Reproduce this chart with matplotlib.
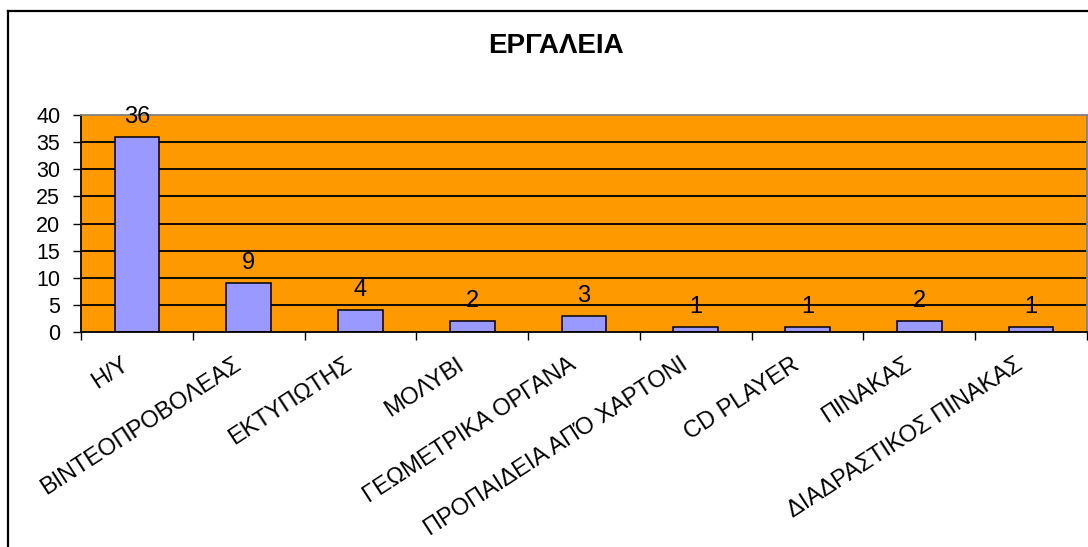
import matplotlib
matplotlib.use("Agg")
import matplotlib.pyplot as plt
import matplotlib.transforms as mtransforms
import numpy as np

plt.rcParams['font.family'] = ['Liberation Sans', 'DejaVu Sans']

title = 'ΕΡΓΑΛΕΙΑ'
categories = ['Η/Υ', 'ΒΙΝΤΕΟΠΡΟΒΟΛΕΑΣ', 'ΕΚΤΥΠΩΤΗΣ', 'ΜΟΛΥΒΙ',
              'ΓΕΩΜΕΤΡΙΚΑ ΟΡΓΑΝΑ', 'ΠΡΟΠΑΙΔΕΙΑ ΑΠΌ ΧΑΡΤΟΝΙ', 'CD PLAYER',
              'ΠΙΝΑΚΑΣ', 'ΔΙΑΔΡΑΣΤΙΚΟΣ ΠΙΝΑΚΑΣ']
counts = [36, 9, 4, 2, 3, 1, 1, 2, 1]
yticks = [0, 5, 10, 15, 20, 25, 30, 35, 40]

W, H = 1088, 547
fig = plt.figure(figsize=(W / 100, H / 100), dpi=100)

# chart frame, running off the right and bottom edges
fig.add_artist(plt.Line2D([8 / W, 8 / W], [0, 1 - 11 / H], color='black', lw=1.6,
                          transform=fig.transFigure))
fig.add_artist(plt.Line2D([8 / W, 1], [1 - 11 / H, 1 - 11 / H], color='black', lw=1.6,
                          transform=fig.transFigure))

left, right, top, bottom = 81, 1087, 115, 332
ax = fig.add_axes([left / W, 1 - bottom / H, (right - left) / W, (bottom - top) / H])
ax.set_facecolor('#FF9900')

x = np.arange(len(categories))
ax.set_xlim(-0.5, len(categories) - 0.5)
ax.set_ylim(0, 40)

for y in yticks[1:-1]:
    ax.axhline(y, color='black', lw=1.3, zorder=1)

ax.bar(x, counts, width=0.4, color='#9999FF', edgecolor='black', lw=1.1, zorder=2)

for xi, c in zip(x, counts):
    ax.annotate(str(c), (xi, c), xytext=(0, 6.5), textcoords='offset points',
                ha='center', va='bottom', fontsize=17, zorder=3)

ax.set_yticks(yticks)
ax.set_yticklabels([str(v) for v in yticks], fontsize=15.5)
ax.tick_params(axis='y', direction='out', length=6, width=1, pad=9)

# ticks on category boundaries, labels at centres
ax.set_xticks(np.arange(len(categories) + 1) - 0.5)
ax.set_xticklabels([])
ax.tick_params(axis='x', direction='out', length=6, width=1)
ax.set_xticks(x, minor=True)
ax.set_xticklabels(categories, minor=True, rotation=33, ha='right', va='top',
                   rotation_mode='anchor', fontsize=17)
ax.tick_params(axis='x', which='minor', length=0, pad=15.5)
shift = mtransforms.ScaledTranslation(-16 / 100, 0, fig.dpi_scale_trans)
for lbl in ax.get_xticklabels(minor=True):
    lbl.set_transform(lbl.get_transform() + shift)

for side in ['top', 'right']:
    ax.spines[side].set_color('#808080')
    ax.spines[side].set_linewidth(1.3)
for side in ['left', 'bottom']:
    ax.spines[side].set_color('black')
    ax.spines[side].set_linewidth(1.3)

fig.text(556 / W, 1 - 46 / H, title, ha='center', va='center',
         fontsize=20, fontweight='bold')

fig.savefig('out.png', dpi=100)
